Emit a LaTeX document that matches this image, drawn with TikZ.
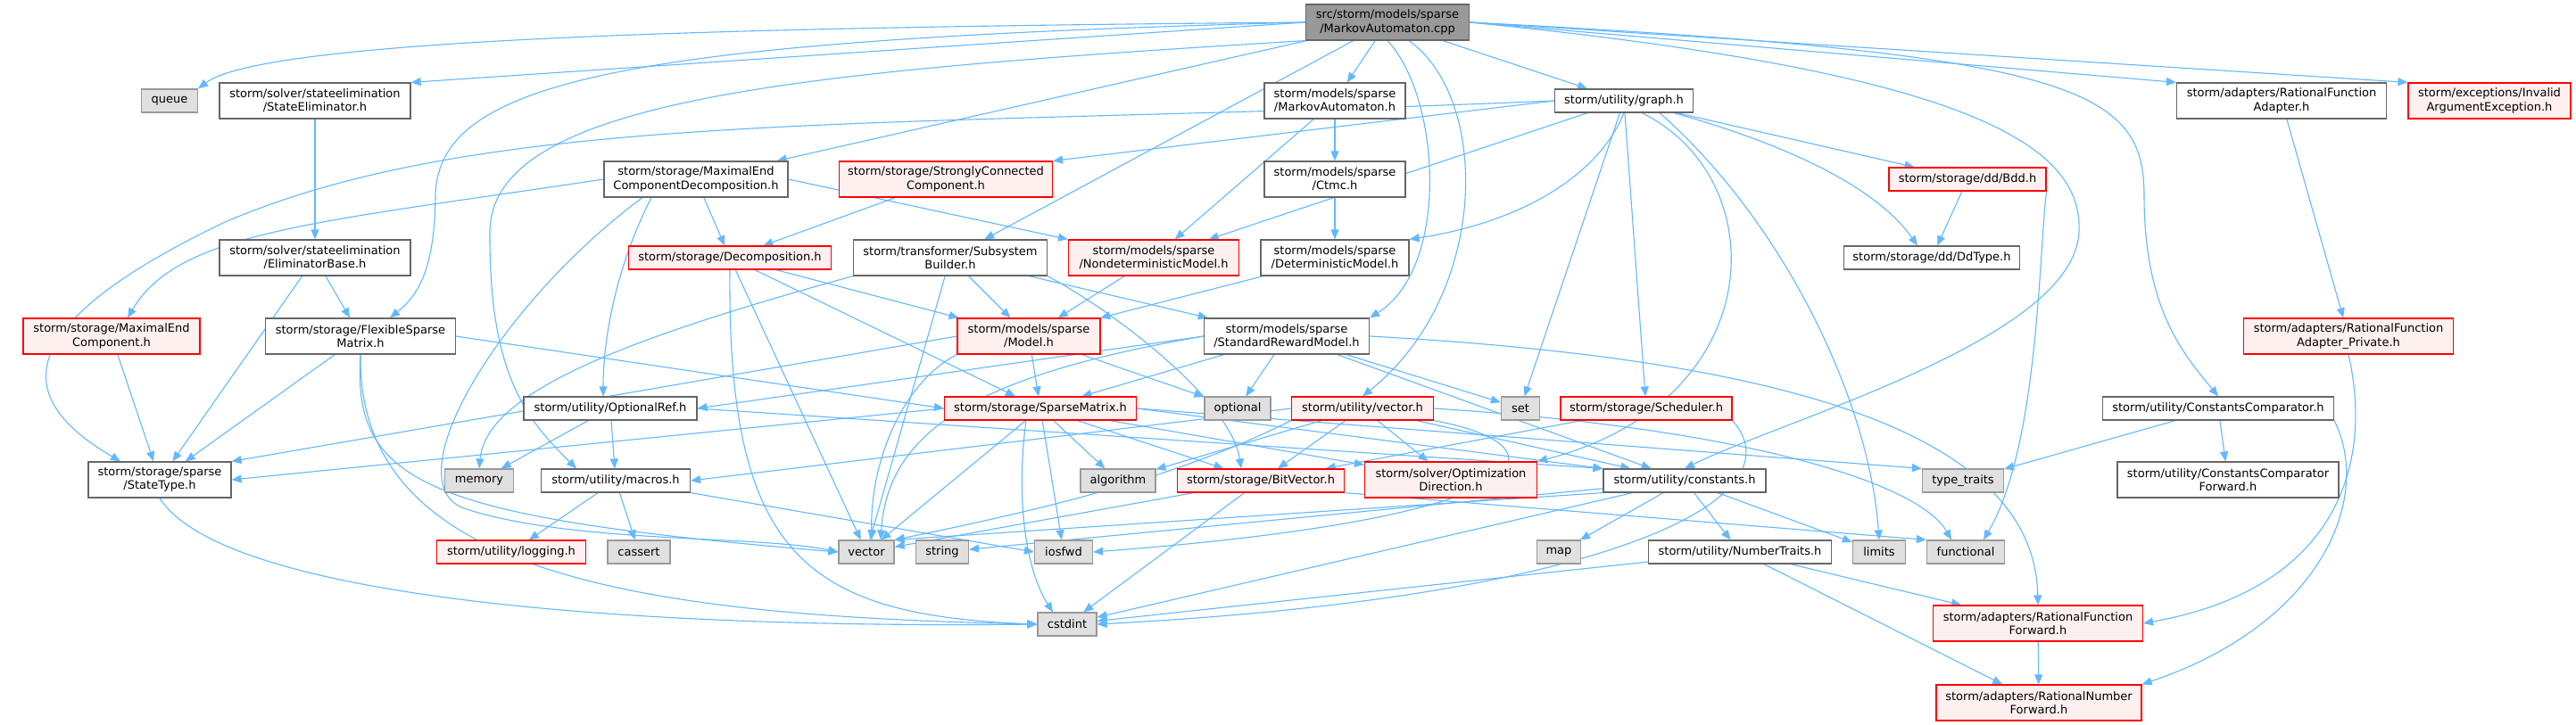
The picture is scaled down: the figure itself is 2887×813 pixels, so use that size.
\documentclass[tikz,border=0pt]{standalone}
\usepackage{fontspec}
\setmainfont{DejaVu Sans}
\usetikzlibrary{arrows.meta}
\pgfdeclarelayer{bg}
\pgfsetlayers{bg,main}
\definecolor{dxedge}{HTML}{63B8FF}
\definecolor{dxgray}{HTML}{999999}
\definecolor{dxborder}{HTML}{666666}
\definecolor{dxsys}{HTML}{E0E0E0}
\definecolor{dxredfill}{HTML}{FFF0F0}

\begin{document}
\begin{tikzpicture}[
    x=0.5pt, y=-0.5pt,
    font=\fontsize{6.5}{7.6}\selectfont,
    box/.style={
        draw,
        line width=0.6pt,
        inner sep=1pt,
        minimum height=13pt,
        align=center
    },
    two/.style={minimum height=20pt},
    bw/.style={minimum width=#1*0.5pt},
    mainfile/.style={box, fill=dxgray, draw=dxborder},
    hdr/.style={box, fill=white, draw=dxborder},
    trunc/.style={box, fill=dxredfill, draw=red},
    sysinc/.style={box, fill=dxsys, draw=dxgray},
    incl/.style={
        -{Triangle[length=5.5pt,width=4.5pt]},
        draw=dxedge,
        line width=0.55pt
    }
]
\useasboundingbox (0,0) rectangle (2887,813);

\node[mainfile, two, bw=183] (cpp) at (1555,25) {src/storm/models/sparse\\/MarkovAutomaton.cpp};
\node[sysinc, bw=63] (queue) at (190,113) {queue};
\node[hdr, two, bw=214] (stElim) at (353,113) {storm/solver/stateelimination\\/StateEliminator.h};
\node[hdr, two, bw=158] (maH) at (1496,113) {storm/models/sparse\\/MarkovAutomaton.h};
\node[hdr, bw=155] (graph) at (1820,113) {storm/utility/graph.h};
\node[hdr, two, bw=235] (rfAdapter) at (2557,113) {storm/adapters/RationalFunction\\Adapter.h};
\node[trunc, two, bw=182] (invArg) at (2790,113) {storm/exceptions/Invalid\\ArgumentException.h};
\node[hdr, two, bw=206] (mecDecomp) at (780,201) {storm/storage/MaximalEnd\\ComponentDecomposition.h};
\node[trunc, two, bw=239] (scc) at (1060,201) {storm/storage/StronglyConnected\\Component.h};
\node[hdr, two, bw=158] (ctmc) at (1496,201) {storm/models/sparse\\/Ctmc.h};
\node[trunc, bw=176] (bdd) at (2205,201) {storm/storage/dd/Bdd.h};
\node[hdr, two, bw=214] (elimBase) at (353,289) {storm/solver/stateelimination\\/EliminatorBase.h};
\node[trunc, bw=227] (decomp) at (818,289) {storm/storage/Decomposition.h};
\node[hdr, two, bw=217] (subsys) at (1065,289) {storm/transformer/Subsystem\\Builder.h};
\node[trunc, two, bw=191] (ndModel) at (1293,289) {storm/models/sparse\\/NondeterministicModel.h};
\node[hdr, two, bw=166] (detModel) at (1496,289) {storm/models/sparse\\/DeterministicModel.h};
\node[hdr, bw=197] (ddType) at (2165,289) {storm/storage/dd/DdType.h};
\node[trunc, two, bw=198] (mec) at (125,377) {storm/storage/MaximalEnd\\Component.h};
\node[hdr, two, bw=213] (flex) at (404,377) {storm/storage/FlexibleSparse\\Matrix.h};
\node[trunc, two, bw=160] (model) at (1153,377) {storm/models/sparse\\/Model.h};
\node[hdr, two, bw=185] (srm) at (1442,377) {storm/models/sparse\\/StandardRewardModel.h};
\node[trunc, two, bw=235] (rfaPriv) at (2632,377) {storm/adapters/RationalFunction\\Adapter\_Private.h};
\node[hdr, bw=194] (optRef) at (684,458) {storm/utility/OptionalRef.h};
\node[trunc, bw=215] (sparseMat) at (1166,458) {storm/storage/SparseMatrix.h};
\node[sysinc, bw=74] (optional) at (1387,458) {optional};
\node[trunc, bw=159] (vecH) at (1527,458) {storm/utility/vector.h};
\node[sysinc, bw=43] (set) at (1704,458) {set};
\node[trunc, bw=192] (sched) at (1845,458) {storm/storage/Scheduler.h};
\node[hdr, bw=259] (ccomp) at (2486,458) {storm/utility/ConstantsComparator.h};
\node[hdr, two, bw=160] (stateType) at (179,538) {storm/storage/sparse\\/StateType.h};
\node[sysinc, bw=77] (memory) at (537,539) {memory};
\node[hdr, bw=167] (macros) at (690,539) {storm/utility/macros.h};
\node[sysinc, bw=84] (algorithm) at (1253,539) {algorithm};
\node[trunc, bw=187] (bitvec) at (1413,539) {storm/storage/BitVector.h};
\node[trunc, two, bw=193] (optDir) at (1626,538) {storm/solver/Optimization\\Direction.h};
\node[hdr, bw=182] (constants) at (1888,539) {storm/utility/constants.h};
\node[sysinc, bw=91] (typeTraits) at (2200,539) {type\_traits};
\node[hdr, two, bw=248] (ccompFwd) at (2497,538) {storm/utility/ConstantsComparator\\Forward.h};
\node[trunc, bw=167] (logging) at (573,619) {storm/utility/logging.h};
\node[sysinc, bw=70] (cassert) at (716,619) {cassert};
\node[sysinc, bw=62] (vector) at (971,619) {vector};
\node[sysinc, bw=59] (string) at (1056,619) {string};
\node[sysinc, bw=65] (iosfwd) at (1192,619) {iosfwd};
\node[sysinc, bw=49] (map) at (1747,619) {map};
\node[hdr, bw=205] (numTraits) at (1950,619) {storm/utility/NumberTraits.h};
\node[sysinc, bw=59] (limits) at (2106,619) {limits};
\node[sysinc, bw=87] (functional) at (2203,619) {functional};
\node[sysinc, bw=66] (cstdint) at (1196,700) {cstdint};
\node[trunc, two, bw=235] (rfFwd) at (2284,699) {storm/adapters/RationalFunction\\Forward.h};
\node[trunc, two, bw=230] (rnFwd) at (2285,788) {storm/adapters/RationalNumber\\Forward.h};

\begin{pgfonlayer}{bg}
\fill[white] (0,0) rectangle (2887,813);

% straight includes
\foreach \a/\b in {cpp.west/stElim.north east, cpp/mecDecomp, cpp/subsys, cpp/maH,
        cpp/graph, cpp.east/rfAdapter.north west, cpp.east/invArg.north west,
        stElim/elimBase, elimBase/flex, elimBase/stateType, maH/ctmc, maH/ndModel,
        ctmc/detModel, detModel/model, ndModel/model, mecDecomp/decomp,
        mecDecomp.east/ndModel.north west, scc/decomp, decomp/model, decomp/sparseMat,
        decomp/vector, subsys/model, subsys/srm, subsys/vector, model/sparseMat,
        model/optional, model.west/stateType.north east, srm/sparseMat, srm/optional,
        srm/set, srm/constants, srm.west/optRef.east, graph.west/scc.north east,
        graph/ndModel, graph/set, graph/sched, graph/bdd, flex/stateType,
        flex.east/sparseMat.west, mec/stateType, optRef/memory, optRef/macros,
        optRef.east/constants.north west, sparseMat.west/stateType.east,
        sparseMat/vector, sparseMat/iosfwd, sparseMat/algorithm, sparseMat/bitvec,
        sparseMat/optDir, sparseMat.east/constants.north west,
        sparseMat.east/typeTraits.north west, vecH.west/macros.east,
        vecH/algorithm, vecH/bitvec, vecH/optDir, vecH/constants, bitvec/vector,
        bitvec/cstdint, bitvec.south east/functional.north west, macros/logging,
        macros/cassert, macros.south east/iosfwd.west, sched/bitvec,
        constants.south west/vector.north east, constants/string, constants/cstdint,
        constants/map, constants/numTraits, constants/limits, numTraits/cstdint,
        numTraits/rfFwd, numTraits/rnFwd, rfFwd/rnFwd, ccomp/typeTraits,
        ccomp/ccompFwd, rfAdapter/rfaPriv, bdd/ddType}
    \draw[incl] (\a) -- (\b);

% curved includes
\draw[incl] (cpp.west) .. controls (900,30) and (300,40) .. (queue.north east);
\draw[incl] (cpp.west) .. controls (700,45) and (490,90) .. (488,220)
    .. controls (487,300) and (470,330) .. ([xshift=-37pt]flex.north east);
\draw[incl] (cpp.south west) .. controls (900,80) and (550,110) .. (549,260)
    .. controls (548,420) and (590,470) .. ([xshift=-22pt]macros.north);
\draw[incl] (cpp.south) .. controls (1615,110) and (1625,300) .. (srm.north east);
\draw[incl] ([xshift=12pt]cpp.south) .. controls (1670,110) and (1670,330) .. (vecH.north);
\draw[incl] (cpp.east) .. controls (2200,80) and (2335,160) .. (2330,260)
    .. controls (2325,380) and (2000,470) .. (constants.north);
\draw[incl] (cpp.east) .. controls (2330,60) and (2403,100) .. (2403,220)
    .. controls (2403,350) and (2450,400) .. (ccomp.north);
\draw[incl] (graph.west) .. controls (1000,145) and (550,120) .. (250,250)
    .. controls (0,370) and (20,450) .. ([xshift=-22pt]stateType.north);
\draw[incl] (graph.south) .. controls (1790,200) and (1700,250) .. (detModel.north east);
\draw[incl] ([xshift=10pt]graph.south) .. controls (1990,200) and (1985,450) .. (optDir.north east);
\draw[incl] ([xshift=20pt]graph.south) .. controls (2000,250) and (2095,450) .. (limits.north);
\draw[incl] ([xshift=28pt]graph.south) .. controls (2030,170) and (2110,220) .. ([xshift=-8pt]ddType.north);
\draw[incl] (mecDecomp.west) .. controls (350,250) and (200,260) .. ([xshift=9pt]mec.north);
\draw[incl] ([xshift=-25pt]mecDecomp.south) .. controls (690,300) and (676,380) .. ([xshift=-4pt]optRef.north);
\draw[incl] ([xshift=-30pt]mecDecomp.south) .. controls (560,340) and (440,540) .. (520,570)
    .. controls (640,610) and (850,600) .. (vector.west);
\draw[incl] (decomp.south) .. controls (815,620) and (900,690) .. (cstdint.west);
\draw[incl] (subsys.south east) .. controls (1250,350) and (1380,450) .. ([xshift=-11pt]bitvec.north);
\draw[incl] (subsys.south west) .. controls (700,380) and (545,440) .. (memory.north);
\draw[incl] (model.south west) .. controls (1010,430) and (975,520) .. ([xshift=3pt]vector.north);
\draw[incl] (srm.west) .. controls (1100,420) and (995,480) .. ([xshift=8pt]vector.north);
\draw[incl] (srm.east) .. controls (1950,400) and (2280,470) .. (rfFwd.north);
\draw[incl] (vecH.south west) .. controls (1330,530) and (1200,565) .. (vector.north east);
\draw[incl] ([xshift=-8pt]sparseMat.south) .. controls (1138,560) and (1150,640) .. ([xshift=-8pt]cstdint.north);
\draw[incl] (vecH.south east) .. controls (1760,500) and (1740,580) .. (iosfwd.east);
\draw[incl] (vecH.east) .. controls (1950,480) and (2150,540) .. ([xshift=-8pt]functional.north);
\draw[incl] (stateType.south) .. controls (250,670) and (700,705) .. (cstdint.west);
\draw[incl] (flex.south) .. controls (400,640) and (700,690) .. (cstdint.west);
\draw[incl] (flex.south) .. controls (395,540) and (470,580) .. (vector.west);
\draw[incl] (sched.south east) .. controls (2020,560) and (1800,670) .. (cstdint.east);
\draw[incl] (ccomp.south east) .. controls (2660,560) and (2600,700) .. (rnFwd.north east);
\draw[incl] (rfaPriv.south) .. controls (2660,520) and (2620,660) .. (rfFwd.east);
\draw[incl] (bdd.south east) .. controls (2285,280) and (2285,500) .. ([xshift=10pt]functional.north);
\end{pgfonlayer}

\end{tikzpicture}
\end{document}
